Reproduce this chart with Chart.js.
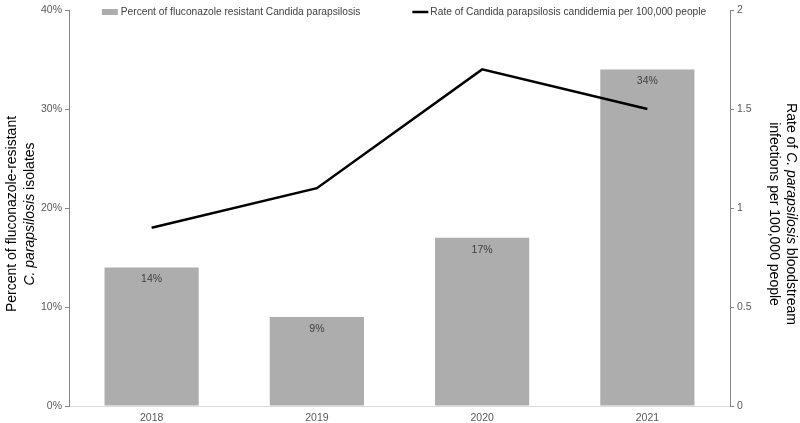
<!DOCTYPE html>
<html>
<head>
<meta charset="utf-8">
<script src="https://cdn.jsdelivr.net/npm/chart.js@4"></script>
<style>
  html, body { margin: 0; padding: 0; background: #fff; }
  #wrap { width: 800px; height: 423px; }
</style>
</head>
<body>
<div id="wrap"><canvas id="c"></canvas></div>
<script>
const years = ['2018', '2019', '2020', '2021'];
const resistantPct = [14, 9, 17, 34];
const ratePer100k = [0.9, 1.1, 1.7, 1.5];
const barLabel = 'Percent of fluconazole resistant Candida parapsilosis';
const lineLabel = 'Rate of Candida parapsilosis candidemia per 100,000 people';

const FONT = '"Liberation Sans", Arial, sans-serif';
const TICK = '#595959';
const SMALL = 10.5;

// text pieces so the species name can be set in italics
const leftTitle = [
    [['Percent of fluconazole-resistant', false]],
    [['C. parapsilosis', true], [' isolates', false]]
];
const rightTitle = [
    [['Rate of ', false], ['C. parapsilosis', true], [' bloodstream', false]],
    [['infections per 100,000 people', false]]
];

function drawRich(ctx, parts, size) {
    let w = 0;
    parts.forEach(p => { ctx.font = (p[1] ? 'italic ' : '') + size + 'px ' + FONT; w += ctx.measureText(p[0]).width; });
    let x = -w / 2;
    parts.forEach(p => {
        ctx.font = (p[1] ? 'italic ' : '') + size + 'px ' + FONT;
        ctx.fillText(p[0], x, 0);
        x += ctx.measureText(p[0]).width;
    });
}

const extras = {
    id: 'extras',
    afterDatasetsDraw(chart) {
        const ctx = chart.ctx;
        const meta = chart.getDatasetMeta(1);
        ctx.save();
        ctx.font = SMALL + 'px ' + FONT;
        ctx.fillStyle = '#404040';
        ctx.textAlign = 'center';
        ctx.textBaseline = 'middle';
        meta.data.forEach((bar, i) => {
            ctx.fillText(resistantPct[i] + '%', bar.x, bar.y + 12);
        });
        ctx.restore();
    },
    afterDraw(chart) {
        const ctx = chart.ctx;
        const a = chart.chartArea;
        const midY = (a.top + a.bottom) / 2;
        ctx.save();
        ctx.fillStyle = '#000';
        ctx.textBaseline = 'middle';
        ctx.textAlign = 'left';

        // left axis title
        leftTitle.forEach((line, i) => {
            ctx.save();
            ctx.translate(12 + i * 18, midY + 6);
            ctx.rotate(-Math.PI / 2);
            drawRich(ctx, line, 14);
            ctx.restore();
        });
        // right axis title
        rightTitle.forEach((line, i) => {
            ctx.save();
            ctx.translate(791 - i * 17, midY + 6);
            ctx.rotate(Math.PI / 2);
            drawRich(ctx, line, 14);
            ctx.restore();
        });

        // legend
        ctx.font = '10.2px ' + FONT;
        const w1 = ctx.measureText(barLabel).width;
        const w2 = ctx.measureText(lineLabel).width;
        const gap = 52, sw = 16;
        const total = sw + 3 + w1 + gap + sw + 2 + w2;
        let x = 404 - total / 2;
        const y = 12;
        ctx.fillStyle = chart.data.datasets[1].backgroundColor;
        ctx.fillRect(x, y - 3, sw, 6);
        ctx.fillStyle = '#404040';
        ctx.fillText(barLabel, x + sw + 3, y);
        x += sw + 3 + w1 + gap;
        ctx.strokeStyle = '#000';
        ctx.lineWidth = 2.5;
        ctx.beginPath();
        ctx.moveTo(x, y);
        ctx.lineTo(x + sw, y);
        ctx.stroke();
        ctx.fillText(lineLabel, x + sw + 2, y);
        ctx.restore();
    }
};

new Chart(document.getElementById('c'), {
    data: {
        labels: years,
        datasets: [
            {
                type: 'line', label: lineLabel, data: ratePer100k, yAxisID: 'y1',
                borderColor: '#000', borderWidth: 2.5, pointRadius: 0, tension: 0, order: 0
            },
            {
                type: 'bar', label: barLabel, data: resistantPct, yAxisID: 'y',
                backgroundColor: '#adadad', categoryPercentage: 1, barPercentage: 0.57, order: 1
            }
        ]
    },
    options: {
        responsive: true,
        maintainAspectRatio: false,
        animation: false,
        layout: { padding: { top: 10, left: 0, right: 0, bottom: 0 } },
        plugins: { legend: { display: false }, tooltip: { enabled: false } },
        scales: {
            x: {
                grid: { display: false, drawTicks: false },
                border: { color: '#d9d9d9', width: 1 },
                ticks: { color: TICK, font: { family: FONT, size: SMALL }, padding: 6 },
                afterFit: s => { s.height = 17; }
            },
            y: {
                position: 'left', min: 0, max: 40,
                ticks: { stepSize: 10, color: TICK, font: { family: FONT, size: SMALL }, padding: 3, callback: v => v + '%' },
                grid: { drawOnChartArea: false, drawTicks: true, tickLength: 4, color: '#868686' },
                border: { color: '#868686', width: 1 },
                afterFit: s => { s.width = 69; }
            },
            y1: {
                position: 'right', min: 0, max: 2,
                ticks: { stepSize: 0.5, color: TICK, font: { family: FONT, size: SMALL }, padding: 3, callback: v => String(v) },
                grid: { drawOnChartArea: false, drawTicks: true, tickLength: 4, color: '#868686' },
                border: { color: '#868686', width: 1 },
                afterFit: s => { s.width = 70; }
            }
        }
    },
    plugins: [extras]
});
</script>
</body>
</html>
